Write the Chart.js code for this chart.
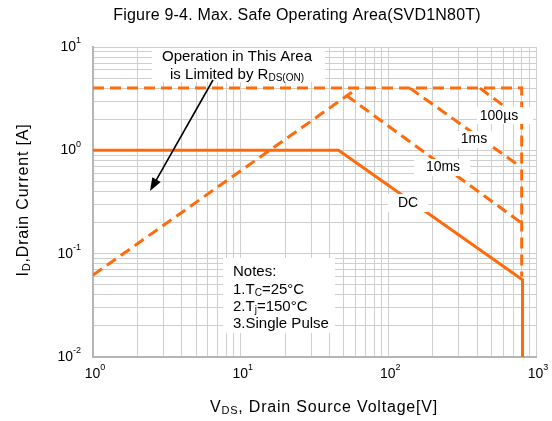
<!DOCTYPE html>
<html><head><meta charset="utf-8">
<script src="https://cdn.jsdelivr.net/npm/chart.js@4"></script>
<style>html,body{margin:0;padding:0;background:#fff}</style>
</head><body>
<canvas id="c" width="552" height="421" style="width:552px;height:421px;display:block"></canvas>
<script>
// ---- data ----
const chartTitle = 'Figure 9-4. Max. Safe Operating Area(SVD1N80T)';
const xTickValues = [1, 10, 100, 1000];
const yTickValues = [0.01, 0.1, 1, 10];
const dcV   = [1, 46, 810, 810];
const dcI   = [1, 1, 0.056, 0.01];
const rdsV  = [1, 62];
const rdsI  = [0.062, 4];
const limV  = [1, 800, 800];
const limI  = [4, 4, 0.06];
const ms10V = [52, 790];
const ms10I = [3.4, 0.2];
const ms1V  = [140, 780];
const ms1I  = [4, 0.7];
const us100V = [417, 800];
const us100I = [4, 2.0];

const ORANGE = '#ff6a0a';
const FONT = '"Liberation Sans", Arial, sans-serif';
const pts = (xs, ys) => xs.map((x, i) => ({x, y: ys[i]}));

function logTicks(scale) {
  const t = [];
  const lo = Math.round(Math.log10(scale.min)), hi = Math.round(Math.log10(scale.max));
  for (let e = lo; e < hi; e++) for (let s = 1; s < 10; s++) t.push({value: s * Math.pow(10, e)});
  t.push({value: Math.pow(10, hi)});
  scale.ticks = t;
}

function rich(ctx, parts, x, y, align, spacing) {
  ctx.letterSpacing = (spacing || 0) + 'px';
  let w = 0;
  parts.forEach(p => { ctx.font = p.f + 'px ' + FONT; p.w = ctx.measureText(p.t).width; w += p.w; });
  let cx = align === 'center' ? x - w / 2 : align === 'right' ? x - w : x;
  parts.forEach(p => { ctx.font = p.f + 'px ' + FONT; ctx.fillText(p.t, cx, y + (p.dy || 0)); cx += p.w; });
  ctx.letterSpacing = '0px';
  return w;
}
function box(ctx, x0, y0, x1, y1) { ctx.fillStyle = '#fff'; ctx.fillRect(x0, y0, x1 - x0, y1 - y0); ctx.fillStyle = '#000'; }

const overlay = {
  id: 'overlay',
  afterDatasetsDraw(chart) {
    const ctx = chart.ctx, xs = chart.scales.x, ys = chart.scales.y;
    ctx.save();
    ctx.textBaseline = 'middle';
    ctx.textAlign = 'left';
    ctx.fillStyle = '#000';
    // title
    rich(ctx, [{t: chartTitle, f: 16}], 297, 16, 'center', 0.2);
    // tick labels
    xTickValues.forEach(v => {
      const px = xs.getPixelForValue(v);
      rich(ctx, [{t: '10', f: 14}, {t: String(Math.round(Math.log10(v))), f: 9, dy: -6}], px + 2, 374, 'center');
    });
    yTickValues.forEach(v => {
      const py = ys.getPixelForValue(v);
      rich(ctx, [{t: '10', f: 14}, {t: String(Math.round(Math.log10(v))), f: 9, dy: -6}], 81, py, 'right');
    });
    // axis titles
    rich(ctx, [{t: 'V', f: 16}, {t: 'DS', f: 11, dy: 3}, {t: ', Drain Source Voltage[V]', f: 16}], 324, 408, 'center', 0.8);
    ctx.save();
    ctx.translate(24, 200); ctx.rotate(-Math.PI / 2);
    rich(ctx, [{t: 'I', f: 16}, {t: 'D', f: 11, dy: 3}, {t: ',Drain Current [A]', f: 16}], 0, 0, 'center', 0.8);
    ctx.restore();
    // RDS annotation
    box(ctx, 152, 48, 325, 82);
    rich(ctx, [{t: 'Operation in This Area', f: 15}], 237, 57, 'center');
    rich(ctx, [{t: 'is Limited by R', f: 15}, {t: 'DS(ON)', f: 10, dy: 3}], 237, 75, 'center');
    // arrow
    ctx.strokeStyle = '#000'; ctx.lineWidth = 1.6;
    const ax0 = 213, ay0 = 80, ax1 = 150, ay1 = 191;
    const ang = Math.atan2(ay1 - ay0, ax1 - ax0);
    ctx.beginPath(); ctx.moveTo(ax0, ay0); ctx.lineTo(ax1 - 10 * Math.cos(ang), ay1 - 10 * Math.sin(ang)); ctx.stroke();
    ctx.beginPath();
    ctx.moveTo(ax1, ay1);
    ctx.lineTo(ax1 - 14 * Math.cos(ang - 0.35), ay1 - 14 * Math.sin(ang - 0.35));
    ctx.lineTo(ax1 - 14 * Math.cos(ang + 0.35), ay1 - 14 * Math.sin(ang + 0.35));
    ctx.closePath(); ctx.fill();
    // curve labels
    box(ctx, 477, 107, 533, 124); rich(ctx, [{t: '100µs', f: 14}], 499, 116, 'center');
    box(ctx, 456, 131, 492, 148); rich(ctx, [{t: '1ms', f: 14}], 474, 139, 'center');
    box(ctx, 414, 159, 470, 176); rich(ctx, [{t: '10ms', f: 14}], 443, 167, 'center');
    box(ctx, 388, 194, 428, 212); rich(ctx, [{t: 'DC', f: 14}], 408, 203, 'center');
    // notes
    box(ctx, 223, 258, 335, 333);
    rich(ctx, [{t: 'Notes:', f: 15}], 233, 272, 'left');
    rich(ctx, [{t: '1.T', f: 15}, {t: 'C', f: 10, dy: 3}, {t: '=25°C', f: 15}], 233, 290, 'left');
    rich(ctx, [{t: '2.T', f: 15}, {t: 'j', f: 10, dy: 3}, {t: '=150°C', f: 15}], 233, 307, 'left');
    rich(ctx, [{t: '3.Single Pulse', f: 15}], 233, 324, 'left');
    ctx.restore();
  }
};

const dashed = {borderDash: [11, 6], borderWidth: 3, borderColor: ORANGE, pointRadius: 0, fill: false, tension: 0};
const solid = {borderWidth: 3, borderColor: ORANGE, pointRadius: 0, fill: false, tension: 0};

new Chart(document.getElementById('c'), {
  type: 'line',
  data: {
    datasets: [
      Object.assign({label: 'RDS(ON)', data: pts(rdsV, rdsI)}, dashed),
      Object.assign({label: 'limit', data: pts(limV, limI)}, dashed),
      Object.assign({label: '10ms', data: pts(ms10V, ms10I)}, dashed),
      Object.assign({label: '1ms', data: pts(ms1V, ms1I)}, dashed),
      Object.assign({label: '100us', data: pts(us100V, us100I)}, dashed),
      Object.assign({label: 'DC', data: pts(dcV, dcI)}, solid)
    ]
  },
  options: {
    responsive: false,
    animation: false,
    devicePixelRatio: 1,
    layout: {padding: {left: 93, right: 16, top: 47, bottom: 64}},
    plugins: {legend: {display: false}, tooltip: {enabled: false}, title: {display: false}},
    scales: {
      x: {
        type: 'logarithmic', min: 1, max: 1000,
        afterBuildTicks: logTicks,
        afterFit: s => { s.height = 0; },
        ticks: {display: false},
        grid: {color: '#cfcfcf', lineWidth: 1, drawTicks: false},
        border: {display: true, color: '#b5b5b5', width: 2}
      },
      y: {
        type: 'logarithmic', min: 0.01, max: 10,
        afterBuildTicks: logTicks,
        afterFit: s => { s.width = 0; },
        ticks: {display: false},
        grid: {color: '#cfcfcf', lineWidth: 1, drawTicks: false},
        border: {display: true, color: '#b5b5b5', width: 2}
      }
    }
  },
  plugins: [overlay]
});
</script>
</body></html>
